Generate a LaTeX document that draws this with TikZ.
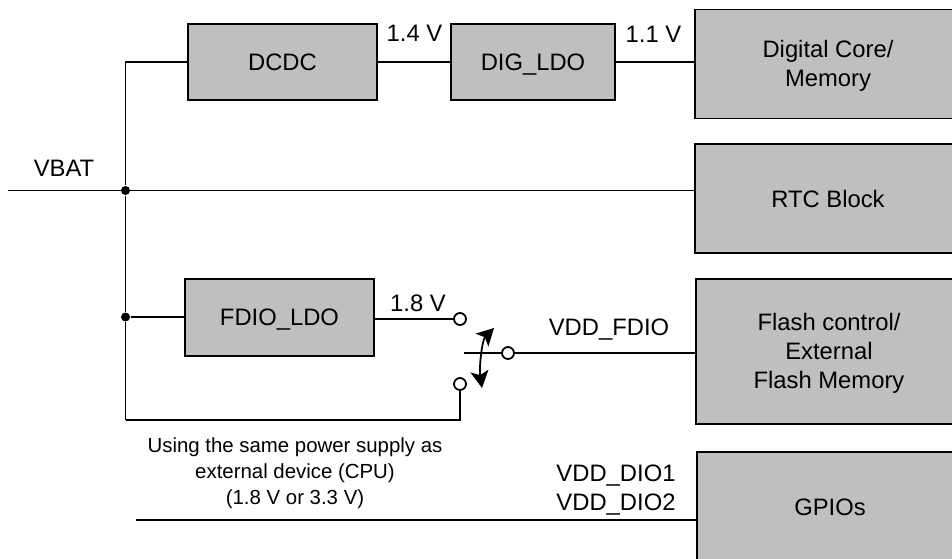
\documentclass[tikz,border=0pt]{standalone}
\usepackage{fontspec}
\setmainfont{Liberation Sans}
\usetikzlibrary{arrows.meta}
\definecolor{blockgray}{RGB}{191,191,191}
\newcommand{\toppad}{\rule{0pt}{21pt}}
\begin{document}
\begin{tikzpicture}[x = 1pt, y = -1pt, line width = 1.8pt,
        block/.style = {draw = black, fill = blockgray, inner sep = 0pt, align = center, font = \fontsize{23.8}{29}\selectfont},
        volt/.style = {inner sep = 0pt, align = center, font = \fontsize{23.8}{29}\selectfont},
        note/.style = {inner sep = 0pt, align = center, font = \fontsize{20.4}{26}\selectfont},
        junction/.style = {circle, fill = black, inner sep = 0pt, minimum size = 9pt},
        contact/.style = {circle, draw = black, fill = white, inner sep = 0pt, minimum size = 12pt},
        swing/.style = {{Stealth[length=17pt,width=18pt,inset=4pt]}-{Stealth[length=17pt,width=18pt,inset=4pt]}}]
            \useasboundingbox (0,0) rectangle (952,558);
            \clip (0,0) rectangle (952,558);
            \node[block, minimum width = 189pt, minimum height = 76pt] (dcdc) at (282.5,62) {DCDC};
            \node[block, minimum width = 164pt, minimum height = 76pt, text depth = 0pt] (digldo) at (533,62) {DIG\_LDO};
            \node[block, minimum width = 189pt, minimum height = 77pt, text depth = 0pt] (fdioldo) at (279.5,317.5) {FDIO\_LDO};
            \node[block, minimum width = 266pt, minimum height = 109pt] (core) at (828,64) {\toppad Digital Core/\\Memory};
            \node[block, minimum width = 266pt, minimum height = 109pt] (rtc) at (828,198.5) {RTC Block};
            \node[block, minimum width = 266pt, minimum height = 145pt] (flash) at (829,351.5) {\toppad Flash control/\\External\\Flash Memory};
            \node[block, minimum width = 266pt, minimum height = 110pt] (gpios) at (830,507) {GPIOs};
            % supply rail
            \coordinate (vbatin) at (8,190.5);
            \coordinate (railtop) at (125.5,62);
            \coordinate (railend) at (125.5,420);
            \coordinate (dioin) at (136,520);
            \node[junction] (vbatdot) at (125.5,190.5) {};
            \node[junction] (fdiodot) at (125.5,317) {};
            \draw (dcdc.west) -- (railtop) -- (vbatdot) -- (fdiodot) -- (railend);
            \draw (vbatin) -- (vbatin -| rtc.west);
            \draw (fdiodot) -- (fdiodot -| fdioldo.west);
            \draw (dcdc.east) -- (digldo.west);
            \draw (digldo.east) -- (digldo.east -| core.west);
            % switch
            \node[contact] (swhigh) at (460,319) {};
            \node[contact] (swlow) at (460,384) {};
            \node[contact] (swcom) at (508,353) {};
            \coordinate (swstub) at (464,353);
            \coordinate (swtop) at (494,328);
            \coordinate (swbottom) at (482,388);
            \draw (swhigh.west) -- (swhigh.west -| fdioldo.east);
            \draw (railend) -| (swlow.south);
            \draw (swstub) -- (swcom.west);
            \draw (swcom.east) -- (swcom.east -| flash.west);
            \draw[swing] (swtop) .. controls (482,340) and (479,368) .. (swbottom);
            \draw (dioin) -- (dioin -| gpios.west);
            % labels
            \node[volt] (vbatlabel) at (64,168) {VBAT};
            \node[volt] (label14) at (414.5,33) {1.4 V};
            \node[volt] (label11) at (653.5,34) {1.1 V};
            \node[volt] (label18) at (418,303.5) {1.8 V};
            \node[volt] (fdiolabel) at (609,329.5) {VDD\_FDIO};
            \node[volt] (diolabel) at (616,490.5) {VDD\_DIO1\\VDD\_DIO2};
            \node[note] (supplynote) at (295,473) {Using the same power supply as\\external device (CPU)\\(1.8 V or 3.3 V)};
        \end{tikzpicture}
\end{document}
